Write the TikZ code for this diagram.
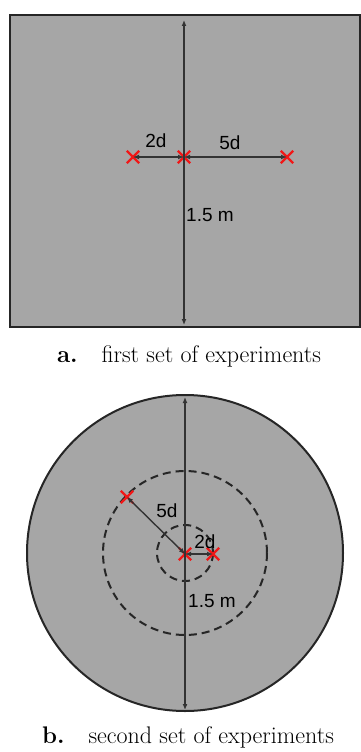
\documentclass[tikz,border=0pt]{standalone}
\usepackage{fontspec}
\usepackage{xcolor}
\usepackage{tikz}
\usetikzlibrary{arrows.meta,shapes.misc}
\newfontfamily\labelfont{Liberation Sans}
\definecolor{platefill}{HTML}{A6A6A6}
\definecolor{plateedge}{HTML}{262626}
\definecolor{dimline}{HTML}{333333}
\definecolor{markred}{HTML}{F01818}

\begin{document}
\begin{tikzpicture}[
  x=1pt, y=-1pt,
  plate/.style={draw=plateedge, line width=2pt, fill=platefill},
  spot/.style={cross out, draw=markred, line width=2.4pt, minimum size=10pt, inner sep=0pt},
  dim/.style={{Latex[length=6pt,width=5pt]}-{Latex[length=6pt,width=5pt]}, draw=dimline, line width=1.4pt},
  ring/.style={draw=plateedge, dash pattern=on 8pt off 5pt, line width=2pt},
  lbl/.style={font=\labelfont\fontsize{19}{22}\selectfont, inner sep=0pt},
  captext/.style={font=\fontsize{24}{28}\selectfont}
]
  \useasboundingbox (0,0) rectangle (361,752);

  % first set: square plate
  \draw[plate] (10,15) rectangle (360,327);
  \coordinate (sqtop) at (184,20);
  \coordinate (sqbot) at (184,325);
  \node[spot] (sqleft) at (133,157) {};
  \node[spot] (sqmid) at (184,157) {};
  \node[spot] (sqright) at (287,157) {};
  \draw[dim] (sqtop) -- (sqbot);
  \draw[dim] (sqleft.center) -- (sqmid.center);
  \draw[dim] (sqmid.center) -- (sqright.center);
  \node[lbl] (sqtwod) at (156,141) {2d};
  \node[lbl] (sqfived) at (230,143) {5d};
  \node[lbl, anchor=west] (sqsize) at (186,215) {1.5 m};
  \node[captext] (capa) at (189,356) {\textbf{a.}\quad first set of experiments};

  % second set: round plate
  \draw[plate] (185,553) circle[radius=158];
  \draw[ring] (185,553) circle[radius=82];
  \draw[ring] (185,553) circle[radius=28];
  \coordinate (cirtop) at (185,397);
  \coordinate (cirbot) at (185,710);
  \node[spot] (cirmid) at (185,554) {};
  \node[spot] (cirright) at (213,554) {};
  \node[spot] (cirfar) at (127,497) {};
  \draw[dim] (cirtop) -- (cirbot);
  \draw[dim] (cirfar.center) -- (cirmid.center);
  \draw[dim] (cirmid.center) -- (cirright.center);
  \node[lbl] (cirfived) at (167,511) {5d};
  \node[lbl] (cirtwod) at (205,542) {2d};
  \node[lbl, anchor=west] (cirsize) at (188,601) {1.5 m};
  \node[captext] (capb) at (188,737) {\textbf{b.}\quad second set of experiments};
\end{tikzpicture}
\end{document}
